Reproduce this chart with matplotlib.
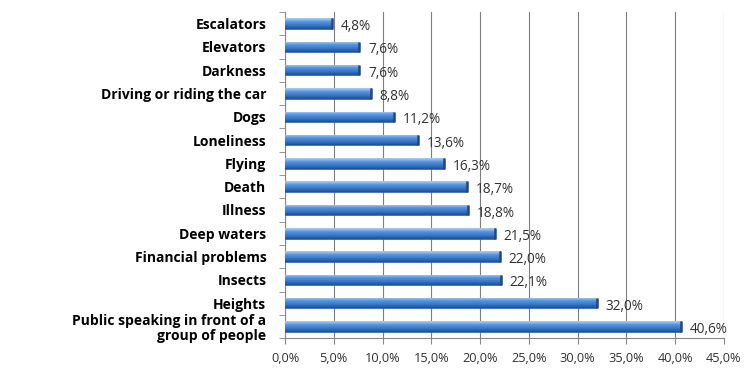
import matplotlib
matplotlib.use("Agg")
import matplotlib.pyplot as plt
import numpy as np
from matplotlib.colors import LinearSegmentedColormap
from matplotlib.ticker import FuncFormatter, MultipleLocator

categories = ["Escalators", "Elevators", "Darkness", "Driving or riding the car", "Dogs",
              "Loneliness", "Flying", "Death", "Illness", "Deep waters",
              "Financial problems", "Insects", "Heights",
              "Public speaking in front of a\ngroup of people"]
values = [4.8, 7.6, 7.6, 8.8, 11.2, 13.6, 16.3, 18.7, 18.8, 21.5, 22.0, 22.1, 32.0, 40.6]
value_labels = ["4,8%", "7,6%", "7,6%", "8,8%", "11,2%", "13,6%", "16,3%", "18,7%",
                "18,8%", "21,5%", "22,0%", "22,1%", "32,0%", "40,6%"]

fig = plt.figure(figsize=(7.54, 3.74), dpi=100)
ax = fig.add_axes([0.378, 0.096, 0.582, 0.872])

n = len(categories)
y = np.arange(n)
h = 0.45
bars = ax.barh(y, values, height=h, color="#4a86d0", edgecolor="#2a5a9e", linewidth=0.5, zorder=3)

cmap = LinearSegmentedColormap.from_list(
    "bar", ["#a9ccf4", "#86b5ec", "#5593dc", "#4686d4", "#3a76c4", "#2b62ad", "#1f4f96"])
grad = np.linspace(0, 1, 64).reshape(-1, 1)
for b in bars:
    x0, y0 = b.get_x(), b.get_y()
    w, hh = b.get_width(), b.get_height()
    im = ax.imshow(grad, cmap=cmap, aspect="auto", extent=(x0, x0 + w, y0, y0 + hh),
                   origin="lower", zorder=4, interpolation="bilinear")
    im.set_clip_path(b)
    ax.plot([x0 + w, x0 + w], [y0, y0 + hh], color="#1d4786", lw=1.8, zorder=5, solid_capstyle="butt")

for yi, v, lab in zip(y, values, value_labels):
    ax.text(v + 0.9, yi + 0.13, lab, va="center", ha="left", fontsize=9.8,
            family="Open Sans", color="#333333")

ax.set_xlim(0, 45)
ax.set_ylim(n - 0.5, -0.5)
ax.xaxis.set_major_locator(MultipleLocator(5))
ax.xaxis.set_major_formatter(FuncFormatter(lambda v, p: f"{v:.1f}%".replace(".", ",")))
ax.set_yticks(y)
ax.set_yticks(np.arange(-0.5, n, 1), minor=True)
ax.set_yticklabels(categories, fontsize=10, fontweight="bold", family="Open Sans", linespacing=1.1)
ax.tick_params(axis="y", which="major", length=0, pad=13.5)
ax.tick_params(axis="y", which="minor", length=4, color="#888888", direction="out")
ax.tick_params(axis="x", length=4, color="#888888", direction="out", labelsize=9.2, pad=6,
               labelcolor="#333333")
for t in ax.get_xticklabels():
    t.set_family("Open Sans")

ax.grid(axis="x", color="#7f7f7f", linewidth=0.8, zorder=0)
ax.set_axisbelow(True)
for s in ["top", "right"]:
    ax.spines[s].set_visible(False)
ax.spines["left"].set_color("#888888")
ax.spines["bottom"].set_color("#888888")

fig.savefig("out.png", dpi=100)
